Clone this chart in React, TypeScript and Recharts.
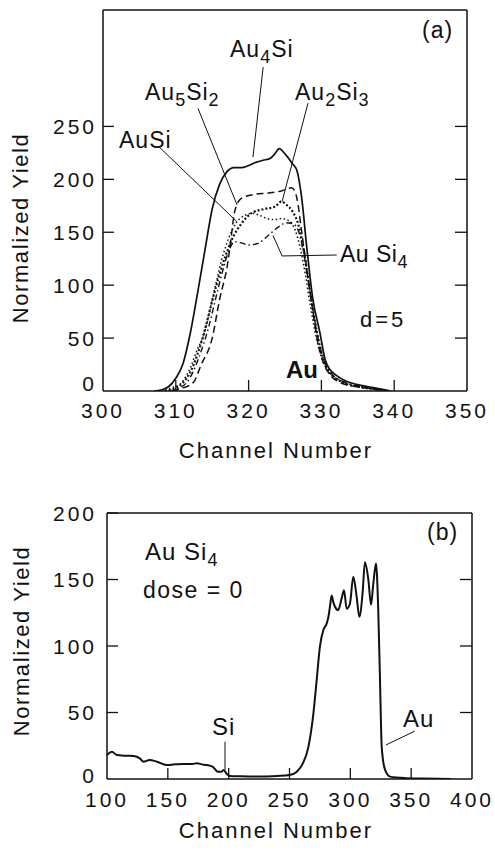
import { LineChart, Line, XAxis, YAxis, ReferenceLine } from 'recharts';

// Panel (a): RBS yield near the Au edge, d = 5
const TOP_X_TICKS = [300, 310, 320, 330, 340, 350];
const TOP_Y_TICKS = [0, 50, 100, 150, 200, 250];

const AU4SI: [number, number][] = [
  [307, 0], [308, 1], [309, 4], [310, 12], [311, 26], [312, 55], [313, 93], [314, 133],
  [315, 172], [316, 195], [317, 207], [318, 211], [319, 211], [320, 213], [321, 216],
  [322, 218], [323, 220], [323.6, 224], [324.2, 229], [325, 224], [326, 215], [326.6, 209],
  [327.3, 182], [328, 135], [328.8, 88], [329.8, 55], [330.5, 30], [331.2, 20], [332, 15],
  [333.5, 9], [335, 6], [336.5, 4], [338, 2], [339.5, 0],
];
const AU5SI2: [number, number][] = [
  [309.5, 0], [311, 3], [312.4, 8], [313.5, 25], [315, 50], [316, 86], [317.2, 124],
  [317.6, 145], [318.1, 170], [319, 182], [321, 186], [322.7, 187], [324.5, 189],
  [325.9, 192], [326.4, 188], [326.8, 176], [327.2, 155], [328, 115], [328.6, 86],
  [329.4, 50], [330.2, 28], [331, 17], [332.6, 8], [334, 5], [336, 3], [338, 1], [339, 0],
];
const AU2SI3: [number, number][] = [
  [308.5, 0], [310, 3], [311, 8], [312, 18], [313, 35], [314, 58], [315, 85], [316, 110],
  [316.8, 127], [317.7, 143], [319, 158], [320.4, 168], [322.2, 172], [323.6, 174],
  [324.5, 179], [325.2, 176], [326.1, 169], [326.8, 158], [327.5, 136], [328.2, 105],
  [329, 70], [329.8, 42], [330.5, 25], [331.5, 15], [333, 8], [335, 4], [337, 2], [338.5, 0],
];
const AUSI: [number, number][] = [
  [308, 0], [309.5, 3], [310.8, 8], [312, 22], [313, 40], [313.7, 50], [315, 86],
  [316.3, 124], [317.3, 145], [318.4, 160], [319.5, 166], [320.5, 168], [321.5, 166],
  [322.5, 163], [323.5, 162], [324.5, 163], [325.5, 161], [326.4, 152], [327.1, 135],
  [327.8, 110], [328.5, 80], [329.3, 50], [330.1, 30], [331, 18], [332.5, 10], [334, 6],
  [336, 3], [338, 1], [339, 0],
];
const AUSI4: [number, number][] = [
  [309, 0], [310.5, 3], [311.5, 8], [312.5, 20], [313.5, 38], [314.5, 60], [315.5, 88],
  [316.5, 115], [317.3, 133], [318.1, 141], [319, 140], [320, 138], [321.3, 139.5],
  [322.7, 147], [324.1, 155], [325.2, 159], [326.1, 158], [326.8, 152], [327.4, 136],
  [328.1, 108], [328.8, 78], [329.6, 48], [330.4, 28], [331.3, 17], [333, 9], [335, 5],
  [337, 2], [338.5, 0],
];

// Panel (b): AuSi4, dose = 0, full spectrum
const BOTTOM_X_TICKS = [100, 150, 200, 250, 300, 350, 400];
const BOTTOM_Y_TICKS = [0, 50, 100, 150, 200];

const AUSI4_DOSE0: [number, number][] = [
  [100, 18], [104, 20.5], [108, 18], [115, 17.5], [122, 17.3], [127, 15.5], [130, 13],
  [135, 14.3], [141, 13], [149, 10.5], [156, 11], [163, 11.3], [170, 11.3], [174, 11.8],
  [178, 11], [182, 10.5], [187, 9.2], [191, 5.5], [194, 5.5], [196, 6.8], [198, 4.3],
  [201, 2.3], [210, 2], [223, 1.8], [240, 2.3], [250, 3], [256, 5.5], [261, 11.8],
  [265.5, 24], [269.6, 49], [272.3, 74], [275, 99.5], [277.8, 112], [280.6, 117], [282, 122],
  [283.3, 130], [284.7, 138], [286, 133], [287.4, 129.5], [290, 127], [292.9, 136],
  [294.8, 142], [297, 128], [299.7, 132], [302.4, 152], [305.2, 137], [307.4, 122],
  [310.1, 140], [312, 163], [314.8, 150], [317, 131], [318.9, 147], [321.1, 162], [323, 125],
  [324.4, 74], [325.8, 24], [328.5, 7], [332.6, 1.8], [340, 1], [346, 0.5], [360, 0.3], [383, 0],
];

const FONT = 'Liberation Sans, Arial, sans-serif';
const INK = '#111';
const TICK_LEN = 11;

const toPoints = (pairs: [number, number][]) => pairs.map(([x, y]) => ({ x, y }));

// custom ticks: label outside, short tick line pointing into the plot
const XTick = ({ x, y, payload, gap, first, last }: any) => {
  const v = payload.value;
  const inner = v !== first && v !== last;
  return (
    <g>
      {inner && <line x1={x} x2={x} y1={y - gap} y2={y - gap - TICK_LEN} stroke={INK} strokeWidth={1.3} />}
      <text x={x} y={y} dy="0.72em" textAnchor="middle" fontSize={21}
        fontFamily={FONT} fill={INK} letterSpacing={3}>{v}</text>
    </g>
  );
};

const YTick = ({ x, y, payload, gap, lift }: any) => {
  const v = payload.value;
  return (
    <g>
      {v !== 0 && <line x1={x + gap} x2={x + gap + TICK_LEN} y1={y} y2={y} stroke={INK} strokeWidth={1.3} />}
      <text x={x} y={v === 0 ? y - lift : y} dy="0.36em" textAnchor="end" fontSize={21}
        fontFamily={FONT} fill={INK} letterSpacing={3}>{v}</text>
    </g>
  );
};

const TopTick = ({ x, y }: any) => (
  <line x1={x} x2={x} y1={y} y2={y + TICK_LEN + 1} stroke={INK} strokeWidth={1.3} />
);

const RightTick = ({ x, y }: any) => (
  <line x1={x} x2={x - TICK_LEN - 1} y1={y} y2={y} stroke={INK} strokeWidth={1.3} />
);

const axisLine = { stroke: INK, strokeWidth: 1.5 };

// axes are 1px thick so the plot frame sits where the margins put it
function Frame({ xDomain, yDomain, xTicks, yTicks, xInner, yInner, xGap, yGap, lift }: any) {
  return [
    <XAxis key="xb" xAxisId={0} type="number" dataKey="x" domain={xDomain} ticks={xTicks}
      allowDataOverflow height={1} tickSize={0} tickMargin={xGap}
      tick={<XTick gap={xGap} first={xDomain[0]} last={xDomain[1]} />}
      axisLine={axisLine} tickLine={false} interval={0} />,
    <XAxis key="xt" xAxisId="top" orientation="top" type="number" domain={xDomain}
      ticks={xInner} allowDataOverflow height={1} tickSize={0} tickMargin={0} tick={<TopTick />}
      axisLine={axisLine} tickLine={false} interval={0} />,
    <YAxis key="yl" yAxisId={0} type="number" domain={yDomain} ticks={yTicks}
      allowDataOverflow width={1} tickSize={0} tickMargin={yGap}
      tick={<YTick gap={yGap} lift={lift} />}
      axisLine={axisLine} tickLine={false} interval={0} />,
    <YAxis key="yr" yAxisId="right" orientation="right" type="number" domain={yDomain}
      ticks={yInner} allowDataOverflow width={1} tickSize={0} tickMargin={0} tick={<RightTick />}
      axisLine={axisLine} tickLine={false} interval={0} />,
  ];
}

const leader = { stroke: INK, strokeWidth: 1 };

function Sub({ children }: { children: string }) {
  return <tspan fontSize={18} dy={6}>{children}</tspan>;
}

export default function App() {
  return (
    <div style={{ position: 'absolute', left: 0, top: 0, width: 495, height: 854, background: '#fff' }}>
      <div style={{ position: 'absolute', left: 0, top: 0 }}>
        <LineChart width={495} height={430} margin={{ top: 9, right: 27, bottom: 38, left: 102 }}>
          {Frame({
            xDomain: [300, 350], yDomain: [0, 360], xTicks: TOP_X_TICKS, yTicks: TOP_Y_TICKS,
            xInner: [310, 320, 330, 340], yInner: [50, 100, 150, 200, 250], xGap: 12, yGap: 6, lift: 8,
          })}
          <Line data={toPoints(AU4SI)} dataKey="y" type="monotone" stroke={INK} strokeWidth={1.7}
            dot={false} isAnimationActive={false} />
          <Line data={toPoints(AU5SI2)} dataKey="y" type="monotone" stroke={INK} strokeWidth={1.5}
            strokeDasharray="7 4" dot={false} isAnimationActive={false} />
          <Line data={toPoints(AU2SI3)} dataKey="y" type="monotone" stroke={INK} strokeWidth={2.2}
            strokeDasharray="2 2" dot={false} isAnimationActive={false} />
          <Line data={toPoints(AUSI)} dataKey="y" type="monotone" stroke={INK} strokeWidth={1.5}
            strokeDasharray="1.5 2.5" dot={false} isAnimationActive={false} />
          <Line data={toPoints(AUSI4)} dataKey="y" type="monotone" stroke={INK} strokeWidth={1.4}
            strokeDasharray="6 3 1.5 3" dot={false} isAnimationActive={false} />
          <ReferenceLine segment={[{ x: 322, y: 306 }, { x: 320.6, y: 221 }]} {...leader} />
          <ReferenceLine segment={[{ x: 313.05, y: 267 }, { x: 318.4, y: 176 }]} {...leader} />
          <ReferenceLine segment={[{ x: 328.16, y: 272 }, { x: 324.6, y: 179 }]} {...leader} />
          <ReferenceLine segment={[{ x: 307.8, y: 230 }, { x: 318.4, y: 160 }]} {...leader} />
          <ReferenceLine segment={[{ x: 332.1, y: 128.5 }, { x: 324.6, y: 127.6 }]} {...leader} />
          <ReferenceLine segment={[{ x: 324.6, y: 127.6 }, { x: 323.35, y: 147 }]} {...leader} />
        </LineChart>
      </div>
      <div style={{ position: 'absolute', left: 0, top: 470 }}>
        <LineChart width={495} height={360} margin={{ top: 42, right: 22, bottom: 50, left: 106 }}>
          {Frame({
            xDomain: [100, 400], yDomain: [0, 200], xTicks: BOTTOM_X_TICKS, yTicks: BOTTOM_Y_TICKS,
            xInner: [150, 200, 250, 300, 350], yInner: [50, 100, 150], xGap: 13, yGap: 10, lift: 4,
          })}
          <Line data={toPoints(AUSI4_DOSE0)} dataKey="y" type="monotone" stroke={INK} strokeWidth={2}
            dot={false} isAnimationActive={false} />
          <ReferenceLine segment={[{ x: 197, y: 28 }, { x: 197, y: 7 }]} {...leader} />
          <ReferenceLine segment={[{ x: 353, y: 36 }, { x: 329.3, y: 25.6 }]} {...leader} />
        </LineChart>
      </div>
      <svg width={495} height={854} style={{ position: 'absolute', left: 0, top: 0, pointerEvents: 'none' }}
        fontFamily={FONT} fill={INK}>
        {/* panel (a) */}
        <text x={422} y={38} fontSize={23} letterSpacing={1}>(a)</text>
        <text x={230} y={57} fontSize={23} letterSpacing={1}>Au<Sub>4</Sub><tspan dy={-6}>Si</tspan></text>
        <text x={145} y={100} fontSize={23} letterSpacing={1}>Au<Sub>5</Sub><tspan dy={-6}>Si</tspan><Sub>2</Sub></text>
        <text x={295} y={100} fontSize={23} letterSpacing={1}>Au<Sub>2</Sub><tspan dy={-6}>Si</tspan><Sub>3</Sub></text>
        <text x={119} y={148} fontSize={23} letterSpacing={1}>AuSi</text>
        <text x={340} y={262} fontSize={23} letterSpacing={0.5}>Au Si<Sub>4</Sub></text>
        <text x={360} y={327} fontSize={22} letterSpacing={3}>d=5</text>
        <text x={286} y={378} fontSize={24} fontWeight="bold">Au</text>
        <text x={276} y={458} fontSize={22} letterSpacing={2} textAnchor="middle">Channel Number</text>
        <text transform="translate(28 228) rotate(-90)" fontSize={22} letterSpacing={1.6} textAnchor="middle">Normalized Yield</text>
        {/* panel (b) */}
        <text x={427} y={540} fontSize={23} letterSpacing={1}>(b)</text>
        <text x={145} y={560} fontSize={24} letterSpacing={1}>Au Si<Sub>4</Sub></text>
        <text x={143} y={598} fontSize={23} letterSpacing={1.5}>dose = 0</text>
        <text x={212} y={735} fontSize={24} letterSpacing={1}>Si</text>
        <text x={403} y={727} fontSize={24} letterSpacing={1}>Au</text>
        <text x={276} y={838} fontSize={22} letterSpacing={2} textAnchor="middle">Channel Number</text>
        <text transform="translate(29 641) rotate(-90)" fontSize={22} letterSpacing={1.6} textAnchor="middle">Normalized Yield</text>
      </svg>
    </div>
  );
}
